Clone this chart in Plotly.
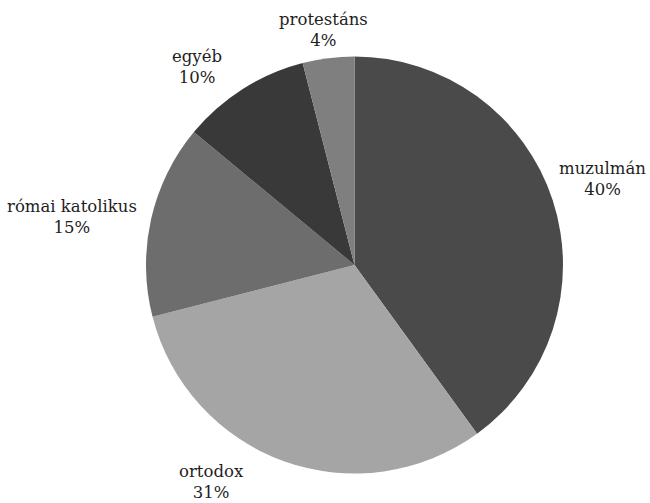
import plotly.graph_objects as go

labels = ["muzulmán", "ortodox", "római katolikus", "egyéb", "protestáns"]
values = [40, 31, 15, 10, 4]
colors = ["#4a4a4a", "#a5a5a5", "#6d6d6d", "#393939", "#7f7f7f"]

# label block centres (pixels from top-left of 650x503 canvas)
label_px = [(602, 179), (211, 482), (72, 217), (197, 67), (323, 30)]

W, H = 650, 503
FONT = dict(family="DejaVu Serif, Liberation Serif, serif", size=16.5, color="#1e1e1e")

fig = go.Figure(go.Pie(
    labels=labels,
    values=values,
    sort=False,
    direction="clockwise",
    rotation=0,
    marker=dict(colors=colors, line=dict(width=0)),
    textinfo="none",
    hoverinfo="label+percent",
    showlegend=False,
    domain=dict(x=[146 / W, 563 / W], y=[1 - 474 / H, 1 - 56 / H]),
))

for lab, val, (px, py) in zip(labels, values, label_px):
    fig.add_annotation(
        x=px / W, y=1 - py / H, xref="paper", yref="paper",
        text=f"{lab}<br>{val}%", showarrow=False,
        xanchor="center", yanchor="middle", align="center",
        font=FONT,
    )

fig.update_layout(
    width=W, height=H,
    margin=dict(l=0, r=0, t=0, b=0),
    paper_bgcolor="white",
    plot_bgcolor="white",
)
fig.write_html(
    "out.html",
    config={"displayModeBar": False},
    post_script="document.body.style.margin='0';document.body.style.overflow='hidden';",
)
